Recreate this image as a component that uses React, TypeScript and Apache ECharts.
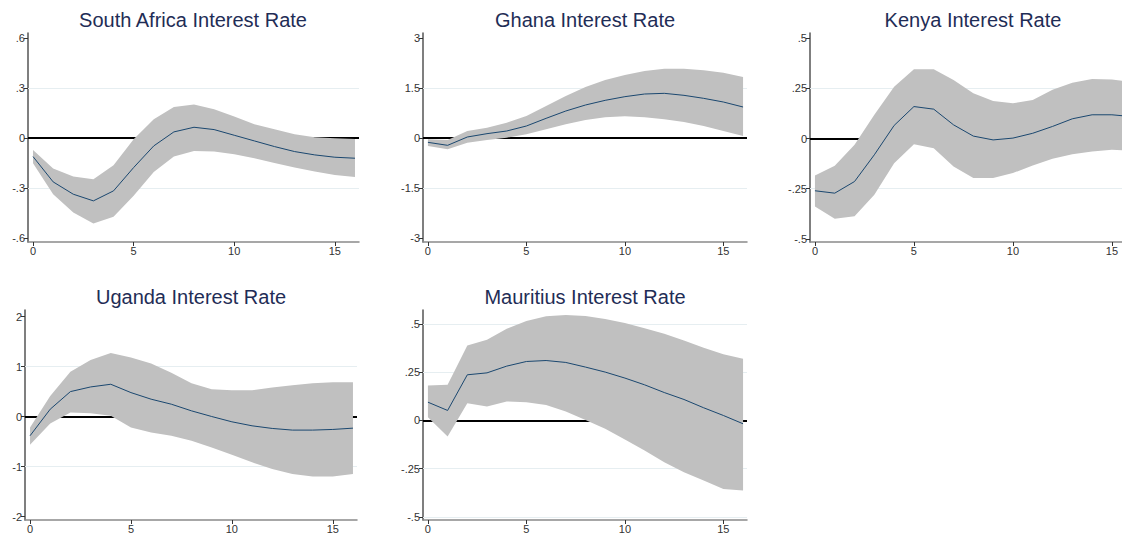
import React, { useEffect, useRef } from "react";
import * as echarts from "echarts";

const horizons = [0, 1, 2, 3, 4, 5, 6, 7, 8, 9, 10, 11, 12, 13, 14, 15, 16];

const titles = [
  "South Africa Interest Rate",
  "Ghana Interest Rate",
  "Kenya Interest Rate",
  "Uganda Interest Rate",
  "Mauritius Interest Rate",
];

const saIrf = [-0.112, -0.264, -0.338, -0.378, -0.318, -0.178, -0.048, 0.036, 0.064, 0.05, 0.016, -0.018, -0.052, -0.082, -0.102, -0.116, -0.122];
const saUpper = [-0.072, -0.184, -0.232, -0.248, -0.164, -0.008, 0.112, 0.186, 0.2, 0.172, 0.128, 0.082, 0.052, 0.022, 0.004, -0.002, -0.006];
const saLower = [-0.152, -0.338, -0.448, -0.514, -0.474, -0.348, -0.204, -0.112, -0.078, -0.082, -0.098, -0.122, -0.15, -0.178, -0.202, -0.222, -0.234];

const ghIrf = [-0.13, -0.22, 0.03, 0.13, 0.21, 0.36, 0.59, 0.81, 0.99, 1.13, 1.24, 1.32, 1.34, 1.28, 1.19, 1.08, 0.93];
const ghUpper = [-0.04, -0.06, 0.21, 0.31, 0.46, 0.66, 0.96, 1.26, 1.53, 1.74, 1.89, 2.01, 2.08, 2.08, 2.03, 1.96, 1.83];
const ghLower = [-0.24, -0.34, -0.14, -0.06, 0.01, 0.11, 0.26, 0.41, 0.54, 0.62, 0.65, 0.62, 0.56, 0.48, 0.36, 0.21, 0.06];

const keIrf = [-0.26, -0.272, -0.214, -0.081, 0.065, 0.159, 0.146, 0.068, 0.012, -0.007, 0.002, 0.026, 0.06, 0.098, 0.118, 0.118, 0.109];
const keUpper = [-0.184, -0.136, -0.031, 0.118, 0.258, 0.344, 0.344, 0.291, 0.225, 0.187, 0.175, 0.192, 0.242, 0.278, 0.296, 0.293, 0.283];
const keLower = [-0.338, -0.399, -0.387, -0.28, -0.123, -0.028, -0.048, -0.139, -0.197, -0.197, -0.172, -0.134, -0.101, -0.078, -0.065, -0.056, -0.06];

const ugIrf = [-0.385, 0.146, 0.498, 0.591, 0.645, 0.478, 0.346, 0.246, 0.113, 0.0, -0.106, -0.186, -0.239, -0.272, -0.272, -0.259, -0.233];
const ugUpper = [-0.22, 0.41, 0.897, 1.13, 1.27, 1.18, 1.06, 0.877, 0.664, 0.545, 0.525, 0.525, 0.578, 0.625, 0.664, 0.684, 0.684];
const ugLower = [-0.565, -0.14, 0.08, 0.066, 0.013, -0.219, -0.319, -0.385, -0.485, -0.618, -0.764, -0.917, -1.05, -1.15, -1.2, -1.2, -1.15];

const muIrf = [0.095, 0.052, 0.237, 0.247, 0.282, 0.306, 0.311, 0.301, 0.277, 0.251, 0.22, 0.185, 0.145, 0.109, 0.066, 0.026, -0.017];
const muUpper = [0.182, 0.185, 0.389, 0.419, 0.476, 0.516, 0.54, 0.547, 0.542, 0.526, 0.505, 0.479, 0.45, 0.415, 0.377, 0.343, 0.32];
const muLower = [0.017, -0.083, 0.09, 0.073, 0.099, 0.095, 0.081, 0.047, 0.003, -0.043, -0.099, -0.156, -0.216, -0.268, -0.311, -0.355, -0.363];

const xTicks = [0, 5, 10, 15];
const saTicks = [-0.6, -0.3, 0, 0.3, 0.6];
const ghTicks = [-3, -1.5, 0, 1.5, 3];
const keTicks = [-0.5, -0.25, 0, 0.25, 0.5];
const ugTicks = [-2, -1, 0, 1, 2];
const muTicks = [-0.5, -0.25, 0, 0.25, 0.5];

const saGridVals = [-0.3, 0.3];
const ghGridVals = [-1.5, 1.5];
const keGridVals = [-0.25, 0.25];
const ugGridVals = [-1, 1];
const muGridVals = [-0.5, -0.25, 0.25, 0.5];

const panelData = [
  { irf: saIrf, upper: saUpper, lower: saLower, ticks: saTicks, gridVals: saGridVals },
  { irf: ghIrf, upper: ghUpper, lower: ghLower, ticks: ghTicks, gridVals: ghGridVals },
  { irf: keIrf, upper: keUpper, lower: keLower, ticks: keTicks, gridVals: keGridVals },
  { irf: ugIrf, upper: ugUpper, lower: ugLower, ticks: ugTicks, gridVals: ugGridVals },
  { irf: muIrf, upper: muUpper, lower: muLower, ticks: muTicks, gridVals: muGridVals },
];

// layout (pixels) and axis ranges per panel; Kenya's panel is cut off at the right edge
const layout = [
  { left: 28, top: 33, width: 331, height: 209, xMax: 16.2, yMin: -0.625, yMax: 0.63, titleX: 193 },
  { left: 423, top: 33, width: 324, height: 209, xMax: 16.2, yMin: -3.12, yMax: 3.15, titleX: 585 },
  { left: 810, top: 33, width: 312, height: 209, xMax: 15.51, yMin: -0.515, yMax: 0.525, titleX: 973 },
  { left: 25, top: 310, width: 332, height: 210, xMax: 16.2, yMin: -2.07, yMax: 2.13, titleX: 191 },
  { left: 423, top: 310, width: 324, height: 210, xMax: 16.2, yMin: -0.516, yMax: 0.573, titleX: 585 },
];

const FONT = "'Liberation Sans', Arial, Helvetica, sans-serif";

const fmt = (v: number) => {
  const s = String(v);
  return s.replace(/^(-?)0\./, "$1.");
};

export default function App() {
  const ref = useRef<HTMLDivElement>(null);
  useEffect(() => {
    if (!ref.current) return;
    const chart = echarts.init(ref.current, undefined, { renderer: "svg" });

    const grids: any[] = [];
    const xAxes: any[] = [];
    const yAxes: any[] = [];
    const series: any[] = [];
    const titleOpts: any[] = [];

    panelData.forEach((p, i) => {
      const L = layout[i];
      grids.push({ left: L.left, top: L.top, width: L.width, height: L.height, containLabel: false });
      titleOpts.push({
        text: titles[i],
        left: L.titleX,
        top: L.top - 23,
        textAlign: "center",
        padding: 0,
        textStyle: { fontSize: 20, fontWeight: "normal", color: "#1f2d56", fontFamily: FONT },
      });
      xAxes.push({
        type: "value",
        gridIndex: i,
        min: -0.25,
        max: L.xMax,
        axisLine: { show: true, onZero: false, lineStyle: { color: "#8a8a8a", width: 1.5 } },
        axisTick: { show: true, customValues: xTicks, length: 4, lineStyle: { color: "#333" } },
        axisLabel: { customValues: xTicks, fontSize: 11, color: "#333", margin: 3, fontFamily: FONT },
        splitLine: { show: false },
      });
      yAxes.push({
        type: "value",
        gridIndex: i,
        min: L.yMin,
        max: L.yMax,
        axisLine: { show: true, onZero: false, lineStyle: { color: "#555", width: 1.5 } },
        axisTick: { show: true, customValues: p.ticks, length: 4, lineStyle: { color: "#333" } },
        axisLabel: {
          customValues: p.ticks,
          fontSize: 11,
          color: "#333",
          margin: 3,
          fontFamily: FONT,
          formatter: (v: number) => fmt(v),
        },
        splitLine: { show: false },
      });
      // reference lines (gridlines + zero line), drawn below the band
      series.push({
        type: "line",
        xAxisIndex: i,
        yAxisIndex: i,
        data: [],
        z: 1,
        silent: true,
        markLine: {
          silent: true,
          z: 1,
          symbol: "none",
          label: { show: false },
          animation: false,
          data: [
            ...p.gridVals.map((g) => ({ yAxis: g, lineStyle: { color: "#e6eef1", width: 1, type: "solid" } })),
            { yAxis: 0, lineStyle: { color: "#000", width: 2, type: "solid" } },
          ],
        },
      });
      // confidence band as one polygon through the axis scales
      series.push({
        type: "custom",
        xAxisIndex: i,
        yAxisIndex: i,
        data: horizons.map((h, j) => [h, p.lower[j], p.upper[j]]),
        encode: { x: 0, y: [1, 2] },
        z: 2,
        silent: true,
        clip: true,
        renderItem: (params: any, api: any) => {
          if (params.dataIndex !== 0) return null;
          const top = horizons.map((h, j) => api.coord([h, p.upper[j]]));
          const bottom = horizons
            .map((h, j) => api.coord([h, p.lower[j]]))
            .reverse();
          return {
            type: "polygon",
            shape: { points: top.concat(bottom) },
            style: { fill: "#c0c0c0", stroke: "none" },
          };
        },
      });
      series.push({
        type: "line",
        xAxisIndex: i,
        yAxisIndex: i,
        data: horizons.map((h, j) => [h, p.irf[j]]),
        symbol: "none",
        lineStyle: { color: "#1a476f", width: 1 },
        z: 3,
        silent: true,
      });
    });

    chart.setOption({
      animation: false,
      backgroundColor: "#ffffff",
      title: titleOpts,
      grid: grids,
      xAxis: xAxes,
      yAxis: yAxes,
      series,
    });
    return () => chart.dispose();
  }, []);
  return (
    <div
      ref={ref}
      style={{ position: "fixed", left: 0, top: 0, width: 1122, height: 535 }}
    />
  );
}
